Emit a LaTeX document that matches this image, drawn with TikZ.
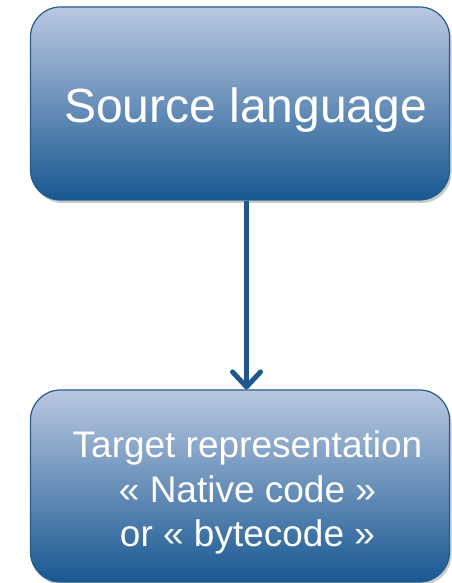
\documentclass[tikz,border=0pt]{standalone}
\usepackage{fontspec}
\setmainfont{Liberation Sans}
\usetikzlibrary{arrows.meta,shadows,shapes.misc}
\definecolor{boxtop}{RGB}{186,200,225}
\definecolor{boxbot}{RGB}{24,88,145}
\definecolor{boxline}{RGB}{38,92,140}
\definecolor{arrowc}{RGB}{30,88,140}
\tikzset{
  box/.style={draw=boxline, line width=1.2pt, rounded corners=30pt,
    top color=boxtop, bottom color=boxbot, text=white,
    drop shadow={shadow xshift=2pt, shadow yshift=-3pt, opacity=0.35, fill=black!60}},
  conn/.style={draw=arrowc, line width=5pt,
    -{Straight Barb[length=15pt,width=28pt,line width=5pt,round]}}
}
\begin{document}
\begin{tikzpicture}[x=1pt,y=1pt]
\useasboundingbox (0,0) rectangle (451,583);
\node[box, minimum width=419pt, minimum height=193pt, inner sep=0pt]
  (src) at (240,479.5) {};
\node[font=\fontsize{48}{56}\selectfont, text=white, anchor=base] (srct) at (245.5,460) {Source language};
\node[box, minimum width=419pt, minimum height=192pt, inner sep=0pt]
  (tgt) at (240,97) {};
\node[font=\fontsize{37}{44.5}\selectfont, text=white, align=center, anchor=base] (tgtt) at (247.5,36)
  {Target representation\\« Native code »\\or « bytecode »};
\draw[conn] (src.south -| 246.5,0) -- (tgt.north -| 246.5,0);
\end{tikzpicture}
\end{document}
